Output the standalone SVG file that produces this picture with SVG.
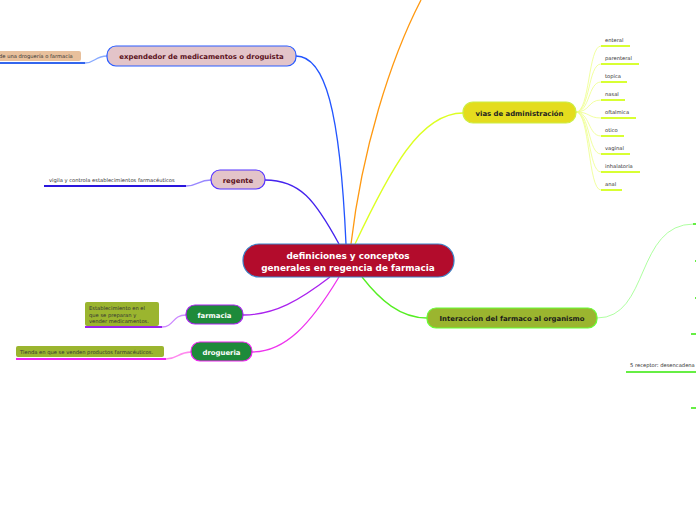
<svg xmlns="http://www.w3.org/2000/svg" width="696" height="520" viewBox="0 0 696 520">
<style>
.c{fill:none;stroke-width:1.3}
.t{font-family:"DejaVu Sans",sans-serif;font-weight:bold;text-anchor:middle}
.s{font-family:"DejaVu Sans",sans-serif;font-size:5.2px;fill:#333}
.u{stroke-width:2;fill:none}
</style>
<rect width="696" height="520" fill="#fff"/>
<g id="connectors">
<path class="c" stroke="#2255ff" d="M346,244 C340,110 325,56 296,56"/>
<path class="c" stroke="#4422ee" d="M339,244 C315,200 300,180 265,180"/>
<path class="c" stroke="#ff9911" d="M351,244 C362,150 390,60 421,0"/>
<path class="c" stroke="#ddff22" d="M355,244 C390,170 420,113 463,113"/>
<path class="c" stroke="#55ee22" d="M362,277 C380,300 400,318 427,318"/>
<path class="c" stroke="#aa22ee" d="M330,277 C300,300 275,315 243,315"/>
<path class="c" stroke="#ee33ee" d="M339,277 C310,325 285,352 252,352"/>
<path class="c" stroke="#88aaff" stroke-width="0.8" d="M107,56 C95,56 95,63 85,63"/>
<path class="c" stroke="#9988ff" stroke-width="0.8" d="M211,180 C198,180 198,186 186,186"/>
<path class="c" stroke="#cc88ff" stroke-width="0.8" d="M186,315 C172,315 174,327 162,327"/>
<path class="c" stroke="#ff88ee" stroke-width="0.8" d="M191,352 C178,352 178,359 166,359"/>
<g stroke="#eeff88" stroke-width="0.8" fill="none">
<path d="M576,112 C590,112 588,46 601,46"/>
<path d="M576,112 C590,112 588,64 601,64"/>
<path d="M576,112 C590,112 588,82 601,82"/>
<path d="M576,112 C590,112 588,100 601,100"/>
<path d="M576,112 C590,112 588,118 601,118"/>
<path d="M576,112 C590,112 588,136 601,136"/>
<path d="M576,112 C590,112 588,154 601,154"/>
<path d="M576,112 C590,112 588,172 601,172"/>
<path d="M576,112 C590,112 588,190 601,190"/>
</g>
<path stroke="#99ff88" stroke-width="0.8" fill="none" d="M597,318 C650,318 635,224 694,224"/>
</g>
<g id="central">
<rect x="243" y="244" width="211" height="33" rx="16" fill="#b30c2c" stroke="#3a82c8" stroke-width="1.2"/>
<text class="t" x="348" y="259" font-size="8.9" fill="#fff">definiciones y conceptos</text>
<text class="t" x="348" y="271" font-size="8.9" fill="#fff">generales en regencia de farmacia</text>
</g>
<g id="expendedor">
<rect x="107" y="46" width="189" height="20" rx="9" fill="#e3c4c9" stroke="#2a5cff" stroke-width="1.2"/>
<text class="t" x="201.5" y="59" font-size="6.9" fill="#5a1020">expendedor de medicamentos o droguista</text>
</g>
<g id="expendedor-child">
<rect x="-5" y="51" width="86" height="10" rx="2" fill="#e8c09c"/>
<text class="s" x="-1" y="58" font-size="4.8">de una droguería o farmacia</text>
<line class="u" x1="0" y1="63" x2="85" y2="63" stroke="#3366ee"/>
</g>
<g id="regente">
<rect x="211" y="170" width="54" height="19" rx="9" fill="#e3c4c9" stroke="#5533ff" stroke-width="1.2"/>
<text class="t" x="238" y="182.5" font-size="6.9" fill="#5a1020">regente</text>
</g>
<g id="regente-child">
<text class="s" x="49" y="182">vigila y controla establecimientos farmacéuticos</text>
<line class="u" x1="44" y1="186" x2="186" y2="186" stroke="#2a16dd"/>
</g>
<g id="vias">
<rect x="463" y="102" width="113" height="21" rx="10" fill="#e4dc1e" stroke="#ccee44" stroke-width="1.2"/>
<text class="t" x="519.5" y="115.5" font-size="6.9" fill="#222">vias de administración</text>
</g>
<g id="vias-children" stroke="#d8ff33">
<text class="s" x="605" y="42" fill="#7a2b36" stroke="none">enteral</text>
<line class="u" x1="601" y1="46" x2="630" y2="46"/>
<text class="s" x="605" y="60" stroke="none">parenteral</text>
<line class="u" x1="601" y1="64" x2="639" y2="64"/>
<text class="s" x="605" y="78" stroke="none">topica</text>
<line class="u" x1="601" y1="82" x2="627" y2="82"/>
<text class="s" x="605" y="96" stroke="none">nasal</text>
<line class="u" x1="601" y1="100" x2="625" y2="100"/>
<text class="s" x="605" y="114" stroke="none">oftalmica</text>
<line class="u" x1="601" y1="118" x2="636" y2="118"/>
<text class="s" x="605" y="132" stroke="none">otico</text>
<line class="u" x1="601" y1="136" x2="624" y2="136"/>
<text class="s" x="605" y="150" stroke="none">vaginal</text>
<line class="u" x1="601" y1="154" x2="630" y2="154"/>
<text class="s" x="605" y="168" stroke="none">inhalatoria</text>
<line class="u" x1="601" y1="172" x2="640" y2="172"/>
<text class="s" x="605" y="186" stroke="none">anal</text>
<line class="u" x1="601" y1="190" x2="622" y2="190"/>
</g>
<g id="interaccion">
<rect x="427" y="308" width="170" height="20" rx="9" fill="#9bb52f" stroke="#66ff33" stroke-width="1.2"/>
<text class="t" x="512" y="320.5" font-size="6.9" fill="#1a1a1a">Interaccion del farmaco al organismo</text>
</g>
<g id="interaccion-children" stroke="#66ee44">
<line class="u" x1="693" y1="224" x2="696" y2="224"/>
<line class="u" x1="695" y1="261" x2="696" y2="261" stroke-width="1.2"/>
<line class="u" x1="695" y1="298" x2="696" y2="298" stroke-width="1.2"/>
<line class="u" x1="691" y1="334" x2="696" y2="334"/>
<text class="s" x="630" y="367" stroke="none">5 receptor: desencadena</text>
<line class="u" x1="626" y1="372" x2="696" y2="372"/>
<line class="u" x1="691" y1="408" x2="696" y2="408"/>
</g>
<g id="farmacia">
<rect x="186" y="305" width="57" height="19" rx="9" fill="#1e8a3a" stroke="#aa22ee" stroke-width="1.2"/>
<text class="t" x="214.5" y="317.5" font-size="6.9" fill="#fff">farmacia</text>
</g>
<g id="farmacia-child">
<rect x="85" y="302" width="74" height="24" rx="2" fill="#9bb52f"/>
<text class="s" x="89" y="310" fill="#222">Establecimiento en el</text>
<text class="s" x="89" y="316.5" fill="#222">que se preparan y</text>
<text class="s" x="89" y="323" fill="#222">vender medicamentos.</text>
<line class="u" x1="85" y1="327" x2="162" y2="327" stroke="#9922ee"/>
</g>
<g id="drogueria">
<rect x="191" y="342" width="61" height="19" rx="9" fill="#1e8a3a" stroke="#ee22ee" stroke-width="1.2"/>
<text class="t" x="221.5" y="354.5" font-size="6.9" fill="#fff">drogueria</text>
</g>
<g id="drogueria-child">
<rect x="16" y="346" width="148" height="11" rx="2" fill="#9bb52f"/>
<text class="s" x="20" y="353.5" fill="#222">Tienda en que se venden productos farmacéuticos.</text>
<line class="u" x1="16" y1="359" x2="166" y2="359" stroke="#ee22ee"/>
</g>
</svg>
